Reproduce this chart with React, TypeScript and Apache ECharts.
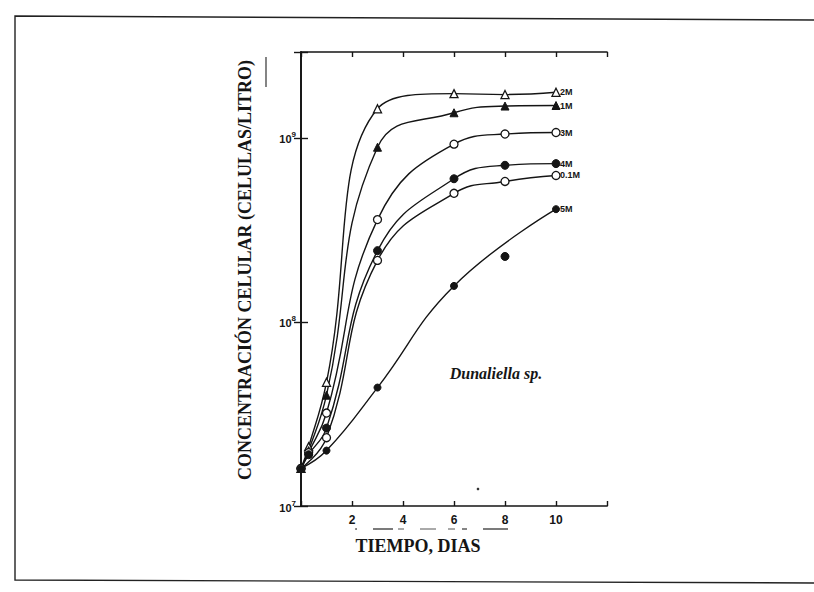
import React, { useEffect, useRef } from "react";
import * as echarts from "echarts";

// Days (x) and cell concentrations (cells / litre)
const series2M: [number, number][] = [[0, 1.6e7], [0.3, 2.1e7], [1, 4.7e7], [3, 1.44e9], [6, 1.74e9], [8, 1.72e9], [10, 1.77e9]];
const series1M: [number, number][] = [[0, 1.6e7], [0.3, 2.0e7], [1, 4.0e7], [3, 8.9e8], [6, 1.37e9], [8, 1.49e9], [10, 1.5e9]];
const series3M: [number, number][] = [[0, 1.6e7], [0.3, 1.95e7], [1, 3.2e7], [3, 3.6e8], [6, 9.25e8], [8, 1.05e9], [10, 1.07e9]];
const series4M: [number, number][] = [[0, 1.6e7], [0.3, 1.9e7], [1, 2.65e7], [3, 2.44e8], [6, 6.0e8], [8, 7.1e8], [10, 7.25e8]];
const series01M: [number, number][] = [[0, 1.6e7], [1, 2.35e7], [3, 2.16e8], [6, 5.0e8], [8, 5.8e8], [10, 6.25e8]];
const series5M: [number, number][] = [[0, 1.6e7], [1, 2.0e7], [3, 4.4e7], [6, 1.57e8], [10, 4.1e8]];
const outlier5M: [number, number][] = [[8, 2.27e8]];

const seriesNames = ["2M", "1M", "3M", "4M", "0.1M", "5M"];
const xTickLabels = ["2", "4", "6", "8", "10"];
const yTickExponents = [7, 8, 9];

const yTitle = "CONCENTRACIÓN CELULAR (CELULAS/LITRO)";
const xTitle = "TIEMPO, DIAS";
const speciesLabel = "Dunaliella sp.";

const INK = "#151515";

export default function App() {
  const ref = useRef<HTMLDivElement>(null);

  useEffect(() => {
    if (!ref.current) return;
    const chart = echarts.init(ref.current, null, { renderer: "svg" });

    const open = { color: "#ffffff", borderColor: INK, borderWidth: 1.3, opacity: 1 };
    const filled = { color: INK, borderColor: INK, borderWidth: 1, opacity: 1 };

    const mk = (name: string, data: [number, number][], symbol: string, size: number, style: any) => ({
      name,
      type: "line",
      data,
      smooth: 0.45,
      symbol,
      symbolSize: size,
      showAllSymbol: true,
      lineStyle: { color: INK, width: 1.4 },
      itemStyle: style,
      endLabel: {
        show: true,
        formatter: name,
        color: INK,
        fontSize: 9,
        fontWeight: "bold",
        fontFamily: "Liberation Sans",
        distance: 4,
      },
      z: 3,
    });

    const axisLine = { show: true, lineStyle: { color: INK, width: 1.7 } };
    const tick = { show: true, inside: true, length: 5, lineStyle: { color: INK, width: 1.4 } };

    const yFormatter = (v: number) => {
      const l = Math.log10(v);
      const e = Math.round(l);
      if (Math.abs(l - e) > 0.01 || !yTickExponents.includes(e)) return "";
      return "{b|10}{s|" + e + "}";
    };

    const option: any = {
      animation: false,
      backgroundColor: "#ffffff",
      grid: { left: 301, top: 52, width: 306, height: 454, show: false },
      xAxis: [
        {
          type: "value",
          min: 0,
          max: 12,
          interval: 2,
          position: "bottom",
          axisLine,
          axisTick: tick,
          splitLine: { show: false },
          axisLabel: {
            formatter: (v: number) => (xTickLabels.includes(String(v)) ? String(v) : ""),
            color: INK,
            fontSize: 12,
            fontWeight: "bold",
            fontFamily: "Liberation Sans",
            margin: 8,
          },
        },
        {
          type: "value",
          min: 0,
          max: 12,
          interval: 2,
          position: "top",
          axisLine,
          axisTick: tick,
          splitLine: { show: false },
          axisLabel: { show: false },
        },
      ],
      yAxis: [
        {
          type: "log",
          logBase: 10,
          min: 1e7,
          max: 2.93e9,
          position: "left",
          axisLine,
          axisTick: { ...tick, length: 7 },
          splitLine: { show: false },
          minorTick: { show: false },
          axisLabel: {
            formatter: yFormatter,
            color: INK,
            margin: 5,
            rich: {
              b: { fontSize: 11, fontWeight: "bold", fontFamily: "Liberation Sans", color: INK, lineHeight: 14, verticalAlign: "bottom" },
              s: { fontSize: 8, fontWeight: "bold", fontFamily: "Liberation Sans", color: INK, lineHeight: 14, verticalAlign: "top" },
            },
          },
        },
        {
          type: "log",
          logBase: 10,
          min: 1e7,
          max: 2.93e9,
          position: "right",
          axisLine,
          axisTick: { ...tick, length: 7 },
          splitLine: { show: false },
          axisLabel: { show: false },
        },
      ],
      series: [
        mk(seriesNames[0], series2M, "triangle", 8, open),
        mk(seriesNames[1], series1M, "triangle", 8, filled),
        mk(seriesNames[2], series3M, "circle", 8, open),
        mk(seriesNames[3], series4M, "circle", 8, filled),
        mk(seriesNames[4], series01M, "circle", 8, open),
        mk(seriesNames[5], series5M, "circle", 7, filled),
        {
          name: "5M (punto)",
          type: "scatter",
          data: outlier5M,
          symbol: "circle",
          symbolSize: 8,
          itemStyle: filled,
          z: 4,
        },
      ],
      graphic: [
        // scanned page frame
        { type: "polyline", shape: { points: [[814, 20], [15, 16], [15, 580], [814, 583]] }, style: { fill: "none", stroke: "#222", lineWidth: 1.4 }, silent: true },
        // y-axis title
        {
          type: "text",
          x: 245,
          y: 270,
          rotation: Math.PI / 2,
          style: {
            text: yTitle,
            fill: INK,
            font: "bold 18px 'Liberation Serif'",
            align: "center",
            verticalAlign: "middle",
          },
        },
        // small bar next to y title
        { type: "line", shape: { x1: 266, y1: 57, x2: 266, y2: 87 }, style: { stroke: "#333", lineWidth: 1.2 } },
        // x-axis title
        {
          type: "text",
          x: 418,
          y: 546,
          style: {
            text: xTitle,
            fill: INK,
            font: "bold 18px 'Liberation Serif'",
            align: "center",
            verticalAlign: "middle",
          },
        },
        // dashes under the x axis (scan marks)
        { type: "line", shape: { x1: 373, y1: 529, x2: 393, y2: 529 }, style: { stroke: "#333", lineWidth: 1.3 } },
        { type: "line", shape: { x1: 398, y1: 529, x2: 404, y2: 529 }, style: { stroke: "#555", lineWidth: 1 } },
        { type: "line", shape: { x1: 420, y1: 529, x2: 436, y2: 529 }, style: { stroke: "#555", lineWidth: 1 } },
        { type: "line", shape: { x1: 448, y1: 529, x2: 455, y2: 529 }, style: { stroke: "#555", lineWidth: 1 } },
        { type: "line", shape: { x1: 462, y1: 529, x2: 467, y2: 529 }, style: { stroke: "#333", lineWidth: 1.2 } },
        { type: "line", shape: { x1: 483, y1: 529, x2: 508, y2: 529 }, style: { stroke: "#333", lineWidth: 1.3 } },
        { type: "circle", shape: { cx: 478, cy: 489, r: 1.3 }, style: { fill: "#333" } },
        { type: "circle", shape: { cx: 356, cy: 529, r: 0.9 }, style: { fill: "#555" } },
        // species label
        {
          type: "text",
          x: 496,
          y: 373,
          style: {
            text: speciesLabel,
            fill: INK,
            font: "italic bold 16px 'Liberation Serif'",
            align: "center",
            verticalAlign: "middle",
          },
        },
      ],
    };

    chart.setOption(option);
    return () => chart.dispose();
  }, []);

  return <div ref={ref} style={{ position: "fixed", left: 0, top: 0, width: 814, height: 592 }} />;
}
